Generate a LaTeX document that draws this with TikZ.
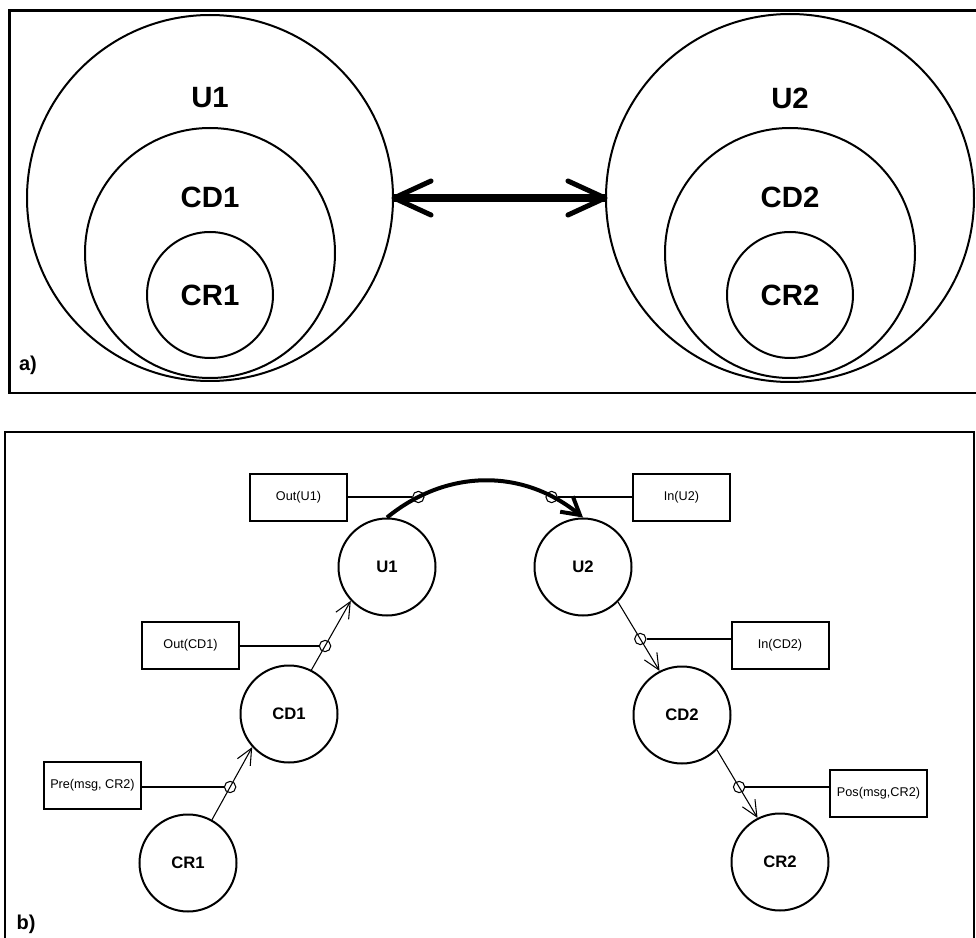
\documentclass[tikz,border=0pt]{standalone}
\usepackage{fontspec}
\setmainfont{Liberation Sans}
\usetikzlibrary{arrows.meta,intersections}
\begin{document}
\begin{tikzpicture}[x=0.75pt,y=-0.75pt,
  frame/.style={draw, line width=1.6pt},
  ring/.style={circle, draw, line width=1.5pt, inner sep=0pt},
  bigtxt/.style={font=\fontsize{22}{26}\selectfont\bfseries},
  state/.style={circle, draw, line width=1.5pt, minimum size=72.75pt, inner sep=0pt,
    font=\fontsize{12.5}{15}\selectfont\bfseries},
  cond/.style={draw, line width=1.5pt, minimum width=72.75pt, minimum height=35.25pt,
    inner sep=0pt, font=\fontsize{9.5}{11}\selectfont},
  flow/.style={line width=0.8pt, -{Straight Barb[length=12pt,width=11pt]}},
  lead/.style={line width=0.8pt},
  tap/.style={circle, draw, line width=0.8pt, minimum size=8.5pt, inner sep=0pt},
  panel/.style={font=\fontsize{15}{18}\selectfont\bfseries}]

\clip (0,0) rectangle (976,938);

% ---------- part a) nested scopes ----------
\draw[frame] (9.5,10.5) rectangle (990,393);

\node[ring, minimum size=274.5pt] (aU1)  at (210,198) {};
\node[ring, minimum size=187.5pt] (aCD1) at (210,253) {};
\node[ring, minimum size=94.5pt]  (aCR1) at (210,295) {};
\node[bigtxt] (tU1)  at (210,98)  {U1};
\node[bigtxt] (tCD1) at (210,197) {CD1};
\node[bigtxt] (tCR1) at (210,295) {CR1};

\node[ring, minimum size=276pt]   (aU2)  at (790,198) {};
\node[ring, minimum size=187.5pt] (aCD2) at (790,253) {};
\node[ring, minimum size=94.5pt]  (aCR2) at (790,295) {};
\node[bigtxt] (tU2)  at (790,98)  {U2};
\node[bigtxt] (tCD2) at (790,197) {CD2};
\node[bigtxt] (tCR2) at (790,295) {CR2};

% double arrow between the two outer scopes
\draw[line width=6pt] (aU1.east) -- (aU2.west);
\draw[line width=3.75pt, line cap=round, line join=round]
  ([shift={(37,-17)}]aU1.east) -- (aU1.east) -- ([shift={(37,17)}]aU1.east);
\draw[line width=3.75pt, line cap=round, line join=round]
  ([shift={(-37,-17)}]aU2.west) -- (aU2.west) -- ([shift={(-37,17)}]aU2.west);

\node[panel] (pa) at (28,365) {a)};

% ---------- part b) message path ----------
\draw[frame] (5,432) rectangle (974,945);

\node[state] (U1)  at (387,567) {U1};
\node[state] (U2)  at (583,567) {U2};
\node[state] (CD1) at (289,714) {CD1};
\node[state] (CD2) at (682,715) {CD2};
\node[state] (CR1) at (188,863) {CR1};
\node[state] (CR2) at (780,862) {CR2};

\node[cond] (oU1)  at (298.5,497) {Out(U1)};
\node[cond] (iU2)  at (681.5,497) {In(U2)};
\node[cond] (oCD1) at (190.5,645.5) {Out(CD1)};
\node[cond] (iCD2) at (780,645) {In(CD2)};
\node[cond] (pre)  at (92.5,785.5) {Pre(msg, CR2)};
\node[cond] (pos)  at (878.5,793) {Pos(msg,CR2)};

% connectors
\draw[flow] (CR1.61) -- (CD1.222);
\draw[flow] (CD1.63) -- (U1.223);
\draw[flow] (U2.-45) -- (CD2.117);
\draw[flow] (CD2.-45) -- (CR2.117);
\draw[line width=3pt, -{Straight Barb[length=13pt,width=15pt]}]
  (U1.north) .. controls +(60,-49) and +(-60,-49) .. (U2.north);

% tap points where the conditions attach
\path[name path=arc] (U1.north) .. controls +(60,-49) and +(-60,-49) .. (U2.north);
\path[name path=hTop] (0,497) -- (976,497);
\path[name intersections={of=arc and hTop, by={xOU1,xIU2}, sort by=arc}];

\path[name path=lA] (CD1.63) -- (U1.223);
\path[name path=hA] (0,646) -- (976,646);
\path[name intersections={of=lA and hA, by=xOCD1}];

\path[name path=lB] (CR1.61) -- (CD1.222);
\path[name path=hB] (0,787) -- (976,787);
\path[name intersections={of=lB and hB, by=xPre}];

\path[name path=lC] (U2.-45) -- (CD2.117);
\path[name path=hC] (0,639) -- (976,639);
\path[name intersections={of=lC and hC, by=xICD2}];

\path[name path=lD] (CD2.-45) -- (CR2.117);
\path[name path=hD] (0,787) -- (976,787);
\path[name intersections={of=lD and hD, by=xPos}];

\node[tap] (kOU1)  at (xOU1)  {};
\node[tap] (kIU2)  at (xIU2)  {};
\node[tap] (kOCD1) at (xOCD1) {};
\node[tap] (kPre)  at (xPre)  {};
\node[tap] (kICD2) at (xICD2) {};
\node[tap] (kPos)  at (xPos)  {};

\draw[lead] (oU1.east |- kOU1) -- (kOU1.west);
\draw[lead] (iU2.west |- kIU2) -- (kIU2.east);
\draw[lead] (oCD1.east |- kOCD1) -- (kOCD1.west);
\draw[lead] (pre.east |- kPre) -- (kPre.west);
\draw[lead] (iCD2.west |- kICD2) -- (kICD2.east);
\draw[lead] (pos.west |- kPos) -- (kPos.east);

\node[panel] (pb) at (26,924) {b)};
\end{tikzpicture}
\end{document}
